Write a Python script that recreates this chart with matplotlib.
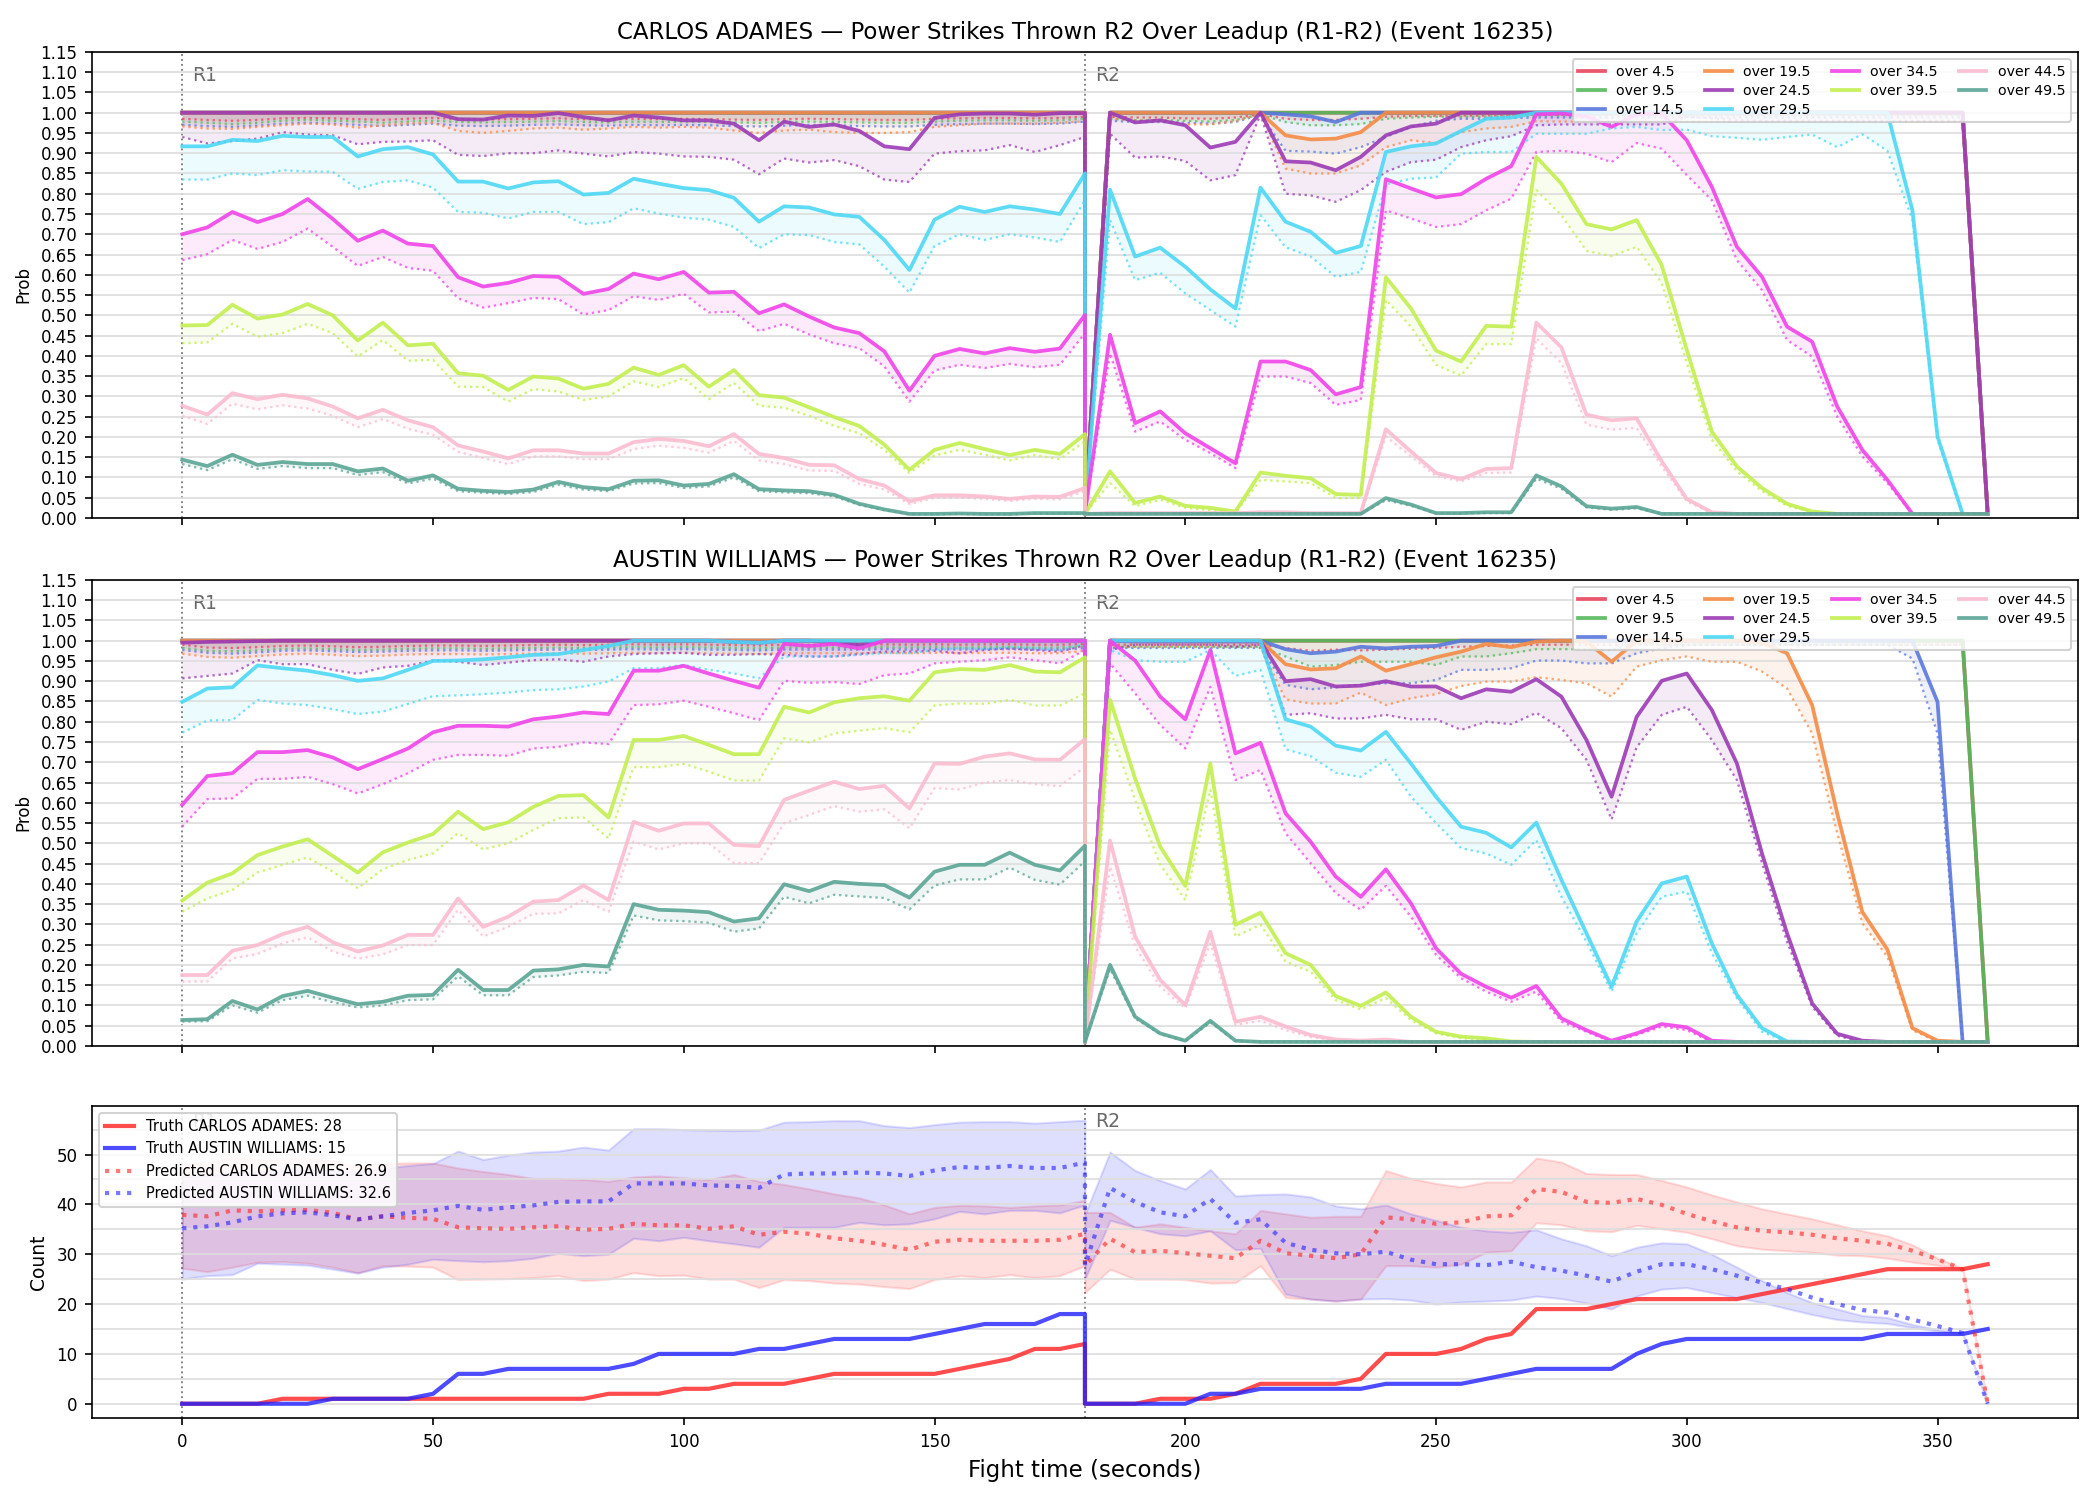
import matplotlib
matplotlib.use("Agg")
import matplotlib.pyplot as plt
from matplotlib.ticker import MultipleLocator

# time grid: R1 0..180, R2 restarts at 180..360 (5 s steps)
R1_T = list(range(0, 181, 5))
R2_T = list(range(180, 361, 5))
TIME = R1_T + R2_T

THRESHOLDS = [4.5, 9.5, 14.5, 19.5, 24.5, 29.5, 34.5, 39.5, 44.5, 49.5]
COLORS = ["#e8455d", "#55b85a", "#5a78dc", "#f58b45", "#9b3bb5",
          "#4dd8f5", "#f043e8", "#c2ef4f", "#fbbcd0", "#5aa595"]

# ---------------- CARLOS ADAMES: P(over x), solid = model, dotted = lower
ca_45 = [1.0] * 37 + [0.01] + [1.0] * 35 + [0.01]
ca_45_d = [0.985, 0.982, 0.98, 0.982, 0.986, 0.987, 0.986, 0.984, 0.982, 0.985, 0.987, 0.984, 0.983, 0.984, 0.985,
           0.986, 0.984, 0.983, 0.985, 0.984, 0.985, 0.984, 0.983, 0.982, 0.984, 0.985, 0.984, 0.983, 0.982, 0.982,
           0.985, 0.986, 0.987, 0.987, 0.986, 0.987, 0.99] + \
          [0.01, 0.99, 0.988, 0.988, 0.986, 0.985, 0.988, 0.996, 0.985, 0.982, 0.982, 0.985, 0.99, 0.992, 0.992,
           0.993, 0.993, 0.994, 0.995] + [0.995] * 17 + [0.01]
ca_95 = [1.0] * 37 + [0.01] + [1.0] * 35 + [0.01]
ca_95_d = [0.978, 0.975, 0.972, 0.975, 0.98, 0.982, 0.98, 0.978, 0.975, 0.978, 0.98, 0.977, 0.976, 0.977, 0.978,
           0.979, 0.977, 0.976, 0.978, 0.977, 0.978, 0.977, 0.976, 0.975, 0.977, 0.978, 0.977, 0.976, 0.975, 0.975,
           0.978, 0.98, 0.981, 0.981, 0.98, 0.981, 0.985] + \
          [0.01, 0.985, 0.982, 0.982, 0.98, 0.978, 0.982, 0.995, 0.977, 0.969, 0.969, 0.972, 0.985, 0.988, 0.99,
           0.99, 0.99, 0.992, 0.993] + [0.993] * 17 + [0.01]
ca_145 = [1.0] * 37 + [0.01, 1, 1, 1, 1, 1, 1, 1, 0.996, 0.991, 0.977, 1.0] + [1.0] * 24 + [0.01]
ca_145_d = [0.97, 0.967, 0.965, 0.968, 0.973, 0.975, 0.973, 0.97, 0.967, 0.97, 0.973, 0.968, 0.967, 0.968, 0.97,
            0.971, 0.969, 0.968, 0.97, 0.969, 0.97, 0.969, 0.967, 0.966, 0.968, 0.97, 0.969, 0.967, 0.966, 0.966,
            0.97, 0.972, 0.973, 0.973, 0.972, 0.973, 0.978] + \
           [0.01, 0.98, 0.977, 0.977, 0.975, 0.973, 0.977, 0.995, 0.906, 0.904, 0.899, 0.915, 0.94, 0.965, 0.98,
            0.985, 0.985, 0.987, 0.988] + [0.988] * 17 + [0.01]
ca_195 = [1.0] * 37 + [0.01, 1, 1, 1, 1, 1, 1, 1, 0.944, 0.934, 0.936, 0.952] + [1.0] * 24 + [0.01]
ca_195_d = [0.966, 0.961, 0.96, 0.965, 0.969, 0.973, 0.971, 0.963, 0.969, 0.973, 0.975, 0.955, 0.95, 0.955, 0.961,
            0.963, 0.958, 0.961, 0.965, 0.963, 0.965, 0.963, 0.956, 0.95, 0.956, 0.958, 0.952, 0.95, 0.95, 0.952,
            0.965, 0.969, 0.973, 0.973, 0.973, 0.975, 0.979] + \
           [0.01, 0.985, 0.981, 0.981, 0.971, 0.971, 0.979, 0.997, 0.862, 0.85, 0.85, 0.87, 0.915, 0.932, 0.925,
            0.952, 0.961, 0.965, 0.979] + [0.978] * 17 + [0.01]
ca_245 = [1.0] * 11 + [0.984, 0.983, 0.993, 0.992, 0.999, 0.989, 0.981, 0.993, 0.988, 0.981, 0.981, 0.973, 0.932,
                       0.978, 0.965, 0.971, 0.955, 0.917, 0.91, 0.987, 0.996, 0.998, 0.998, 0.995, 0.999, 0.999] + \
         [0.01, 1.0, 0.976, 0.981, 0.969, 0.914, 0.928, 1.0, 0.88, 0.877, 0.858, 0.891, 0.944, 0.966, 0.973,
          1.0] + [1.0] * 20 + [0.01]
ca_245_d = [0.94, 0.924, 0.93, 0.936, 0.952, 0.946, 0.944, 0.922, 0.928, 0.929, 0.932, 0.896, 0.893, 0.9, 0.9,
            0.907, 0.899, 0.892, 0.903, 0.899, 0.892, 0.891, 0.884, 0.848, 0.887, 0.877, 0.883, 0.868, 0.835,
            0.829, 0.899, 0.905, 0.907, 0.92, 0.903, 0.92, 0.94] + \
           [0.01, 0.948, 0.889, 0.892, 0.881, 0.833, 0.846, 0.996, 0.8, 0.796, 0.78, 0.809, 0.854, 0.878, 0.884,
            0.915, 0.932, 0.942, 0.969, 0.971, 0.971, 0.971, 0.971, 0.971, 0.99, 0.986, 0.982] + [0.98] * 9 + [0.01]
ca_295 = [0.917, 0.917, 0.933, 0.93, 0.943, 0.94, 0.94, 0.892, 0.91, 0.915, 0.897, 0.83, 0.83, 0.813, 0.828,
          0.831, 0.798, 0.802, 0.837, 0.825, 0.814, 0.809, 0.79, 0.731, 0.769, 0.766, 0.749, 0.743, 0.686, 0.612,
          0.736, 0.768, 0.755, 0.769, 0.761, 0.75, 0.85] + \
         [0.01, 0.81, 0.645, 0.667, 0.62, 0.564, 0.517, 0.815, 0.731, 0.706, 0.654, 0.671, 0.903, 0.917, 0.924,
          0.955, 0.985, 0.988] + [1.0] * 15 + [0.759, 0.201, 0.01, 0.01]
ca_295_d = [0.835, 0.835, 0.85, 0.846, 0.858, 0.855, 0.854, 0.812, 0.829, 0.833, 0.815, 0.755, 0.753, 0.739,
            0.755, 0.755, 0.725, 0.73, 0.764, 0.751, 0.741, 0.736, 0.718, 0.666, 0.7, 0.698, 0.681, 0.675, 0.62,
            0.556, 0.671, 0.7, 0.686, 0.7, 0.692, 0.681, 0.784] + \
           [0.01, 0.735, 0.587, 0.605, 0.554, 0.513, 0.472, 0.747, 0.668, 0.645, 0.595, 0.607, 0.823, 0.837, 0.84,
            0.899, 0.903, 0.903, 0.948, 0.948, 0.948, 0.961, 0.965, 0.957, 0.958, 0.942, 0.938, 0.933, 0.94, 0.946,
            0.915, 0.947, 0.906, 0.735, 0.193, 0.01, 0.01]
ca_345 = [0.7, 0.717, 0.755, 0.73, 0.75, 0.787, 0.738, 0.684, 0.709, 0.677, 0.671, 0.594, 0.571, 0.58, 0.597,
          0.595, 0.553, 0.565, 0.603, 0.589, 0.607, 0.556, 0.558, 0.505, 0.527, 0.497, 0.47, 0.456, 0.411, 0.314,
          0.4, 0.417, 0.406, 0.419, 0.41, 0.418, 0.501] + \
         [0.01, 0.452, 0.234, 0.263, 0.209, 0.172, 0.135, 0.386, 0.386, 0.365, 0.305, 0.323, 0.836, 0.813, 0.791,
          0.799, 0.837, 0.868, 0.996, 0.998, 0.991, 0.965, 0.996, 0.998, 0.932, 0.817, 0.669, 0.595, 0.472, 0.435,
          0.275, 0.168, 0.094, 0.01, 0.01, 0.01, 0.01]
ca_345_d = [0.636, 0.651, 0.686, 0.664, 0.681, 0.714, 0.669, 0.622, 0.644, 0.617, 0.61, 0.542, 0.519, 0.53, 0.543,
            0.54, 0.502, 0.513, 0.547, 0.538, 0.553, 0.507, 0.509, 0.461, 0.479, 0.453, 0.431, 0.419, 0.374, 0.287,
            0.364, 0.378, 0.37, 0.38, 0.372, 0.378, 0.456] + \
           [0.01, 0.406, 0.213, 0.238, 0.193, 0.16, 0.123, 0.349, 0.349, 0.333, 0.279, 0.291, 0.759, 0.739, 0.718,
            0.725, 0.759, 0.788, 0.903, 0.906, 0.899, 0.878, 0.925, 0.911, 0.846, 0.784, 0.636, 0.562, 0.439, 0.398,
            0.25, 0.152, 0.086, 0.01, 0.01, 0.01, 0.01]
ca_395 = [0.475, 0.476, 0.526, 0.492, 0.502, 0.528, 0.5, 0.438, 0.482, 0.426, 0.43, 0.357, 0.351, 0.316, 0.349,
          0.344, 0.319, 0.331, 0.371, 0.353, 0.377, 0.324, 0.365, 0.303, 0.297, 0.273, 0.249, 0.227, 0.181, 0.119,
          0.168, 0.185, 0.17, 0.155, 0.168, 0.158, 0.207] + \
         [0.01, 0.115, 0.037, 0.053, 0.03, 0.025, 0.016, 0.112, 0.104, 0.098, 0.059, 0.057, 0.594, 0.517, 0.413,
          0.386, 0.474, 0.472, 0.891, 0.825, 0.725, 0.712, 0.735, 0.624, 0.415, 0.213, 0.127, 0.074, 0.035,
          0.016] + [0.01] * 7
ca_395_d = [0.431, 0.433, 0.479, 0.447, 0.456, 0.479, 0.456, 0.398, 0.439, 0.388, 0.39, 0.324, 0.323, 0.287, 0.318,
            0.312, 0.291, 0.3, 0.337, 0.323, 0.345, 0.293, 0.333, 0.277, 0.272, 0.252, 0.227, 0.209, 0.168, 0.111,
            0.154, 0.168, 0.156, 0.142, 0.155, 0.145, 0.189] + \
           [0.01, 0.086, 0.029, 0.045, 0.025, 0.019, 0.012, 0.094, 0.09, 0.086, 0.049, 0.049, 0.538, 0.472, 0.378,
            0.351, 0.429, 0.429, 0.809, 0.747, 0.659, 0.646, 0.669, 0.579, 0.382, 0.193, 0.115, 0.066, 0.03,
            0.014] + [0.01] * 7
ca_445 = [0.277, 0.255, 0.308, 0.293, 0.304, 0.295, 0.275, 0.246, 0.267, 0.241, 0.224, 0.179, 0.164, 0.147, 0.167,
          0.167, 0.159, 0.159, 0.187, 0.195, 0.19, 0.177, 0.207, 0.158, 0.148, 0.131, 0.13, 0.096, 0.08, 0.041,
          0.056, 0.056, 0.053, 0.047, 0.053, 0.052, 0.074] + \
         [0.01, 0.012, 0.012, 0.012, 0.012, 0.012, 0.012, 0.014, 0.014, 0.012, 0.012, 0.012, 0.219, 0.164, 0.111,
          0.096, 0.121, 0.123, 0.482, 0.421, 0.255, 0.241, 0.246, 0.14, 0.047, 0.014] + [0.01] * 11
ca_445_d = [0.252, 0.232, 0.282, 0.268, 0.278, 0.27, 0.252, 0.224, 0.244, 0.22, 0.205, 0.163, 0.148, 0.133, 0.152,
            0.152, 0.145, 0.145, 0.17, 0.178, 0.173, 0.161, 0.19, 0.142, 0.133, 0.117, 0.116, 0.084, 0.07, 0.034,
            0.05, 0.05, 0.047, 0.042, 0.047, 0.046, 0.066] + \
           [0.01, 0.01, 0.01, 0.01, 0.01, 0.01, 0.01, 0.012, 0.012, 0.01, 0.01, 0.01, 0.201, 0.152, 0.103, 0.09,
            0.111, 0.112, 0.443, 0.382, 0.23, 0.218, 0.222, 0.127, 0.041, 0.012] + [0.01] * 11
ca_495 = [0.144, 0.128, 0.156, 0.131, 0.138, 0.133, 0.133, 0.115, 0.122, 0.092, 0.105, 0.072, 0.067, 0.064, 0.07,
          0.089, 0.076, 0.071, 0.092, 0.093, 0.08, 0.084, 0.108, 0.071, 0.068, 0.066, 0.057, 0.035, 0.021, 0.01,
          0.01, 0.011, 0.01, 0.01, 0.012, 0.012, 0.012] + \
         [0.01] * 12 + [0.049, 0.033, 0.012, 0.012, 0.014, 0.014, 0.105, 0.078, 0.029, 0.023, 0.027] + [0.01] * 14
ca_495_d = [0.133, 0.118, 0.145, 0.121, 0.128, 0.123, 0.123, 0.106, 0.113, 0.085, 0.097, 0.066, 0.062, 0.059,
            0.064, 0.082, 0.07, 0.066, 0.085, 0.086, 0.074, 0.078, 0.1, 0.066, 0.063, 0.061, 0.053, 0.032, 0.019,
            0.009, 0.009, 0.01, 0.009, 0.009, 0.011, 0.011, 0.011] + \
           [0.01] * 12 + [0.044, 0.03, 0.011, 0.011, 0.012, 0.012, 0.097, 0.072, 0.026, 0.02, 0.024] + [0.01] * 14

# ---------------- AUSTIN WILLIAMS
aw_45 = [1.0] * 37 + [0.01] + [1.0] * 35 + [0.01]
aw_45_d = [0.99, 0.983, 0.982, 0.984, 0.987, 0.988, 0.986, 0.984, 0.985, 0.987, 0.988, 0.988, 0.987, 0.988, 0.989,
           0.99, 0.989, 0.99, 0.991, 0.99, 0.991, 0.99, 0.989, 0.988, 0.99, 0.99, 0.99, 0.99, 0.991, 0.99, 0.991,
           0.99, 0.991, 0.991, 0.99, 0.99, 0.992] + \
          [0.01, 0.99, 0.99, 0.99, 0.99, 0.99, 0.99, 0.99, 0.982, 0.975, 0.978, 0.976, 0.978, 0.98, 0.982, 0.985,
           0.987, 0.988, 0.99] + [0.99] * 17 + [0.01]
aw_95 = [1.0] * 37 + [0.01] + [1.0] * 35 + [0.01]
aw_95_d = [0.982, 0.975, 0.974, 0.976, 0.98, 0.981, 0.979, 0.977, 0.978, 0.98, 0.981, 0.981, 0.98, 0.981, 0.982,
           0.983, 0.982, 0.983, 0.984, 0.983, 0.984, 0.983, 0.982, 0.981, 0.983, 0.983, 0.983, 0.983, 0.984, 0.983,
           0.984, 0.983, 0.984, 0.984, 0.983, 0.983, 0.986] + \
          [0.01, 0.985, 0.985, 0.985, 0.985, 0.985, 0.985, 0.985, 0.961, 0.936, 0.94, 0.948, 0.948, 0.948, 0.94,
           0.961, 0.961, 0.969, 0.979, 0.979, 0.979, 0.977, 0.993] + [0.99] * 13 + [0.01]
aw_145 = [1.0] * 37 + [0.01, 1, 1, 1, 1, 1, 1, 1, 0.979, 0.969, 0.973, 0.985, 0.981, 0.985, 0.987] + [1.0] * 19 + \
         [0.849, 0.01, 0.01]
aw_145_d = [0.977, 0.97, 0.968, 0.971, 0.975, 0.976, 0.974, 0.972, 0.973, 0.975, 0.976, 0.976, 0.975, 0.976,
            0.977, 0.978, 0.977, 0.978, 0.979, 0.978, 0.979, 0.978, 0.977, 0.976, 0.978, 0.978, 0.978, 0.978,
            0.979, 0.978, 0.979, 0.978, 0.979, 0.979, 0.978, 0.978, 0.981] + \
           [0.01] + [0.982] * 7 + [0.891, 0.88, 0.885, 0.891, 0.895, 0.895, 0.903, 0.928, 0.928, 0.932, 0.951,
                                   0.951, 0.944, 0.944, 0.969, 0.981, 0.989] + [0.99] * 8 + [0.956, 0.771, 0.01, 0.01]
aw_195 = [1.0] * 37 + \
         [0.01, 1, 1, 1, 1, 1, 1, 1, 0.942, 0.929, 0.932, 0.961, 0.926, 0.942, 0.959, 0.973, 0.992, 0.984, 0.998,
          1.0, 0.998, 0.948, 1.0, 1.0, 1.0, 1.0, 1.0, 0.995, 0.969, 0.841, 0.574, 0.331, 0.238, 0.044, 0.013, 0.01,
          0.01]
aw_195_d = [0.968, 0.96, 0.958, 0.962, 0.966, 0.968, 0.965, 0.962, 0.963, 0.966, 0.967, 0.967, 0.966, 0.967,
            0.968, 0.969, 0.968, 0.969, 0.97, 0.969, 0.97, 0.969, 0.968, 0.967, 0.969, 0.969, 0.969, 0.969, 0.97,
            0.969, 0.97, 0.969, 0.97, 0.97, 0.969, 0.969, 0.975] + \
           [0.01] + [0.985] * 7 + [0.855, 0.845, 0.845, 0.872, 0.841, 0.858, 0.868, 0.888, 0.899, 0.899, 0.91,
                                   0.903, 0.895, 0.862, 0.936, 0.952, 0.961, 0.948, 0.948, 0.924, 0.882, 0.771,
                                   0.525, 0.303, 0.22, 0.039, 0.011, 0.01, 0.01]
aw_245 = [0.995, 0.997, 0.998, 0.999, 1, 1, 1, 1, 1, 1, 1, 1, 1, 1, 1, 1, 1, 1, 1, 1, 1, 1, 0.997, 0.995, 1, 1,
          0.995, 0.99, 1, 1, 1, 1, 1, 1, 1, 1, 1] + \
         [0.01, 1] + [0.998] * 6 + [0.9, 0.905, 0.887, 0.889, 0.9, 0.887, 0.887, 0.858, 0.88, 0.874, 0.905, 0.862,
                                   0.755, 0.615, 0.812, 0.901, 0.919, 0.829, 0.697, 0.475, 0.278, 0.105, 0.03,
                                   0.013] + [0.01] * 5
aw_245_d = [0.907, 0.913, 0.919, 0.952, 0.942, 0.942, 0.928, 0.918, 0.934, 0.938, 0.951, 0.948, 0.94, 0.946,
            0.952, 0.954, 0.948, 0.961, 0.967, 0.969, 0.97, 0.965, 0.965, 0.967, 0.965, 0.961, 0.961, 0.967, 0.973,
            0.973, 0.975, 0.969, 0.977, 0.981, 0.977, 0.973, 0.989] + \
           [0.01, 0.977, 0.99, 0.99, 0.99, 0.99, 0.985, 0.99, 0.817, 0.821, 0.808, 0.808, 0.817, 0.806, 0.806, 0.78,
            0.8, 0.794, 0.822, 0.784, 0.706, 0.559, 0.737, 0.817, 0.837, 0.755, 0.656, 0.451, 0.257, 0.097, 0.025,
            0.01, 0.01, 0.01, 0.01, 0.01, 0.01]
aw_295 = [0.849, 0.882, 0.885, 0.939, 0.932, 0.926, 0.915, 0.901, 0.907, 0.928, 0.95, 0.951, 0.954, 0.959, 0.965,
          0.967, 0.977, 0.987, 1, 1, 1, 1, 0.997, 0.995, 1, 1, 1, 1, 1, 1, 1, 1, 1, 1, 1, 1, 1] + \
         [0.01, 1, 1, 1, 1, 1, 1, 1, 0.806, 0.788, 0.741, 0.729, 0.775, 0.697, 0.615, 0.541, 0.526, 0.49, 0.551,
          0.41, 0.278, 0.146, 0.307, 0.401, 0.418, 0.253, 0.126, 0.044, 0.011] + [0.01] * 8
aw_295_d = [0.773, 0.803, 0.804, 0.854, 0.845, 0.841, 0.831, 0.819, 0.825, 0.844, 0.863, 0.865, 0.868, 0.872,
            0.878, 0.88, 0.887, 0.899, 0.932, 0.932, 0.94, 0.928, 0.919, 0.907, 0.961, 0.961, 0.961, 0.965, 0.969,
            0.969, 0.977, 0.981, 0.979, 0.984, 0.981, 0.977, 0.993] + \
           [0.01, 0.977, 0.952, 0.948, 0.948, 0.977, 0.913, 0.928, 0.732, 0.715, 0.674, 0.664, 0.706, 0.615, 0.55,
            0.488, 0.475, 0.447, 0.508, 0.368, 0.257, 0.134, 0.278, 0.368, 0.381, 0.229, 0.118, 0.035,
            0.01] + [0.01] * 8
aw_345 = [0.595, 0.666, 0.673, 0.725, 0.725, 0.73, 0.712, 0.683, 0.708, 0.734, 0.774, 0.79, 0.79, 0.788, 0.806,
          0.813, 0.823, 0.819, 0.926, 0.926, 0.938, 0.919, 0.901, 0.884, 0.992, 0.987, 0.992, 0.981, 1, 1, 1, 1, 1,
          1, 1, 1, 1] + \
         [0.01, 1, 0.951, 0.862, 0.806, 0.977, 0.722, 0.748, 0.574, 0.504, 0.418, 0.368, 0.436, 0.352, 0.241,
          0.178, 0.146, 0.119, 0.148, 0.068, 0.039, 0.013, 0.031, 0.054, 0.046, 0.013] + [0.01] * 11
aw_345_d = [0.541, 0.609, 0.611, 0.659, 0.659, 0.664, 0.646, 0.623, 0.646, 0.673, 0.706, 0.718, 0.718, 0.716,
            0.734, 0.738, 0.749, 0.745, 0.841, 0.843, 0.852, 0.837, 0.821, 0.804, 0.901, 0.896, 0.898, 0.893,
            0.915, 0.919, 0.944, 0.948, 0.952, 0.959, 0.952, 0.944, 0.977] + \
           [0.01, 0.944, 0.87, 0.792, 0.734, 0.886, 0.656, 0.681, 0.525, 0.451, 0.377, 0.336, 0.395, 0.319, 0.225,
            0.167, 0.134, 0.109, 0.134, 0.06, 0.035, 0.01, 0.027, 0.048, 0.039, 0.01] + [0.01] * 11
aw_395 = [0.359, 0.403, 0.426, 0.471, 0.492, 0.51, 0.469, 0.428, 0.478, 0.502, 0.523, 0.578, 0.535, 0.552, 0.59,
          0.617, 0.619, 0.564, 0.755, 0.755, 0.765, 0.743, 0.72, 0.72, 0.837, 0.823, 0.848, 0.858, 0.863, 0.852,
          0.922, 0.93, 0.928, 0.94, 0.924, 0.922, 0.959] + \
         [0.01, 0.855, 0.66, 0.492, 0.395, 0.697, 0.299, 0.329, 0.229, 0.2, 0.123, 0.099, 0.132, 0.072, 0.035,
          0.023, 0.019, 0.011] + [0.01] * 19
aw_395_d = [0.331, 0.364, 0.385, 0.428, 0.447, 0.465, 0.43, 0.389, 0.436, 0.459, 0.475, 0.525, 0.485, 0.5, 0.533,
            0.562, 0.564, 0.512, 0.688, 0.688, 0.696, 0.677, 0.655, 0.655, 0.759, 0.749, 0.771, 0.778, 0.784,
            0.774, 0.84, 0.845, 0.844, 0.854, 0.84, 0.84, 0.87] + \
           [0.01, 0.78, 0.607, 0.447, 0.36, 0.632, 0.27, 0.299, 0.208, 0.183, 0.113, 0.09, 0.118, 0.064, 0.031,
            0.019, 0.015, 0.01] + [0.01] * 19
aw_445 = [0.175, 0.175, 0.235, 0.249, 0.276, 0.294, 0.256, 0.233, 0.248, 0.274, 0.274, 0.364, 0.294, 0.319, 0.356,
          0.36, 0.396, 0.36, 0.553, 0.531, 0.549, 0.549, 0.496, 0.493, 0.607, 0.63, 0.652, 0.634, 0.642, 0.586,
          0.697, 0.696, 0.714, 0.722, 0.707, 0.706, 0.757] + \
         [0.01, 0.507, 0.27, 0.163, 0.101, 0.282, 0.06, 0.072, 0.048, 0.027, 0.016, 0.013, 0.016] + [0.01] * 24
aw_445_d = [0.159, 0.159, 0.216, 0.227, 0.253, 0.268, 0.233, 0.215, 0.226, 0.249, 0.249, 0.336, 0.27, 0.294,
            0.326, 0.327, 0.36, 0.331, 0.504, 0.485, 0.5, 0.5, 0.451, 0.451, 0.549, 0.57, 0.592, 0.578, 0.584,
            0.537, 0.636, 0.633, 0.65, 0.656, 0.646, 0.641, 0.689] + \
           [0.01, 0.442, 0.245, 0.146, 0.093, 0.253, 0.052, 0.062, 0.039, 0.022, 0.013, 0.011, 0.012] + [0.01] * 24
aw_495 = [0.064, 0.066, 0.111, 0.09, 0.123, 0.136, 0.119, 0.103, 0.109, 0.124, 0.126, 0.188, 0.138, 0.138, 0.186,
          0.189, 0.2, 0.196, 0.35, 0.336, 0.334, 0.33, 0.307, 0.315, 0.399, 0.382, 0.405, 0.4, 0.397, 0.366, 0.43,
          0.447, 0.447, 0.477, 0.447, 0.433, 0.494] + \
         [0.01, 0.2, 0.072, 0.031, 0.013, 0.062, 0.013] + [0.01] * 30
aw_495_d = [0.06, 0.061, 0.1, 0.082, 0.113, 0.124, 0.108, 0.095, 0.1, 0.113, 0.115, 0.172, 0.125, 0.125, 0.17,
            0.174, 0.183, 0.18, 0.322, 0.31, 0.308, 0.304, 0.282, 0.29, 0.368, 0.352, 0.373, 0.369, 0.365, 0.337,
            0.396, 0.411, 0.411, 0.44, 0.41, 0.398, 0.456] + \
           [0.01, 0.19, 0.068, 0.029, 0.012, 0.058, 0.012] + [0.01] * 30

# ---------------- counts
ca_truth = [0, 0, 0, 0, 1, 1, 1, 1, 1, 1, 1, 1, 1, 1, 1, 1, 1, 2, 2, 2, 3, 3, 4, 4, 4, 5, 6, 6, 6, 6, 6, 7, 8, 9,
            11, 11, 12] + \
           [0, 0, 0, 1, 1, 1, 2, 4, 4, 4, 4, 5, 10, 10, 10, 11, 13, 14, 19, 19, 19, 20, 21, 21, 21, 21, 21, 22, 23,
            24, 25, 26, 27, 27, 27, 27, 28]
aw_truth = [0, 0, 0, 0, 0, 0, 1, 1, 1, 1, 2, 6, 6, 7, 7, 7, 7, 7, 8, 10, 10, 10, 10, 11, 11, 12, 13, 13, 13, 13,
            14, 15, 16, 16, 16, 18, 18] + \
           [0, 0, 0, 0, 0, 2, 2, 3, 3, 3, 3, 3, 4, 4, 4, 4, 5, 6, 7, 7, 7, 7, 10, 12, 13, 13, 13, 13, 13, 13, 13,
            13, 14, 14, 14, 14, 15]
ca_pred = [37.9, 37.6, 38.8, 38.6, 38.8, 38.9, 38.3, 37.0, 37.6, 37.3, 37.1, 35.4, 35.2, 35.1, 35.4, 35.6, 34.9,
           35.1, 36.1, 35.8, 35.8, 35.1, 35.6, 33.9, 34.5, 34.1, 33.2, 32.7, 31.9, 30.9, 32.5, 32.9, 32.7, 32.7,
           32.7, 32.9, 34.1] + \
          [27.7, 33.1, 30.4, 30.7, 30.2, 29.7, 29.2, 32.7, 30.2, 29.7, 29.2, 30.0, 37.4, 37.0, 36.1, 36.4, 37.6,
           37.8, 43.1, 42.5, 40.5, 40.3, 41.1, 39.9, 38.1, 36.6, 35.4, 34.7, 34.4, 33.9, 33.2, 32.7, 32.1, 30.7,
           29.0, 27.0, 0.0]
ca_hi = [48.0, 48.3, 49.5, 49.0, 49.0, 49.3, 48.8, 47.5, 48.2, 48.3, 48.3, 47.3, 46.6, 46.0, 45.2, 45.2, 45.0,
         44.6, 45.5, 45.7, 45.3, 45.0, 46.0, 44.6, 44.0, 43.1, 42.1, 41.3, 39.9, 38.1, 39.4, 39.8, 39.7, 39.4, 39.7,
         39.9, 40.8] + \
        [38.4, 38.4, 35.4, 36.1, 35.4, 34.7, 34.1, 38.8, 38.1, 37.4, 37.6, 37.6, 46.8, 45.2, 44.2, 43.5, 44.5, 44.5,
         49.3, 48.5, 46.2, 46.0, 46.0, 44.8, 43.5, 41.9, 40.5, 39.1, 38.1, 37.1, 35.9, 34.7, 33.7, 31.9, 29.2, 27.2,
         0.0]
ca_lo = [27.2, 26.5, 27.4, 28.4, 28.5, 28.2, 27.4, 26.3, 27.7, 27.6, 27.4, 24.9, 25.0, 25.1, 25.3, 25.7, 24.7,
         25.0, 26.3, 25.7, 25.8, 25.0, 25.0, 23.3, 24.9, 24.7, 24.2, 24.0, 23.5, 23.1, 24.9, 25.7, 25.3, 25.9, 25.3,
         25.7, 27.7] + \
        [22.3, 27.0, 25.0, 25.0, 24.9, 24.2, 24.3, 27.7, 21.3, 21.0, 20.6, 21.0, 27.7, 27.7, 27.4, 28.0, 30.4, 30.7,
         36.3, 35.9, 34.7, 34.5, 35.8, 35.1, 34.4, 33.1, 31.7, 31.0, 30.7, 30.4, 29.8, 29.7, 29.2, 28.4, 27.8, 26.9,
         0.0]
aw_pred = [35.2, 35.6, 36.4, 37.6, 38.2, 38.4, 37.8, 37.0, 37.6, 38.3, 38.8, 39.7, 38.9, 39.4, 39.8, 40.5, 40.6,
           40.6, 44.2, 44.2, 44.2, 43.8, 43.7, 43.3, 46.0, 46.2, 46.2, 46.4, 46.2, 45.7, 46.8, 47.5, 47.3, 47.7,
           47.3, 47.3, 48.4] + \
          [27.7, 43.3, 40.5, 38.4, 37.6, 41.1, 36.3, 37.0, 32.3, 30.9, 30.2, 30.0, 30.5, 28.9, 28.0, 28.0, 27.8,
           28.5, 27.4, 26.7, 25.7, 24.5, 26.5, 28.0, 28.0, 27.0, 25.7, 24.3, 23.0, 21.3, 20.0, 18.8, 18.3, 16.9,
           15.6, 14.2, 0.0]
aw_hi = [45.5, 45.8, 46.3, 46.5, 46.8, 47.0, 46.8, 46.5, 47.2, 47.8, 48.2, 50.7, 49.0, 49.9, 50.5, 50.7, 51.5,
         50.9, 55.2, 55.2, 55.0, 54.9, 54.8, 54.9, 56.5, 56.6, 56.8, 56.8, 55.8, 55.4, 56.0, 56.5, 56.6, 56.6, 56.3,
         56.6, 56.9] + \
        [38.0, 50.5, 46.8, 44.8, 43.1, 47.0, 41.7, 42.0, 42.1, 41.5, 39.7, 39.1, 39.9, 38.1, 36.8, 35.4, 34.7, 34.4,
         34.9, 33.1, 31.7, 29.7, 31.4, 32.3, 32.1, 30.0, 27.4, 24.7, 22.3, 20.3, 19.0, 17.7, 17.3, 15.9, 14.9, 14.2,
         0.0]
aw_lo = [25.0, 25.7, 25.9, 28.2, 28.0, 27.8, 27.0, 26.2, 27.4, 28.0, 29.0, 28.7, 28.5, 28.7, 29.2, 30.2, 29.7,
         30.0, 33.2, 32.7, 33.4, 32.7, 32.1, 31.4, 35.4, 35.4, 35.4, 36.4, 35.9, 36.1, 37.1, 38.6, 38.1, 38.8, 38.8,
         38.3, 39.9] + \
        [25.0, 36.8, 35.4, 34.1, 33.7, 34.7, 30.9, 31.2, 22.0, 21.0, 20.6, 21.0, 21.1, 20.8, 20.0, 20.4, 20.6, 20.8,
         21.6, 21.1, 20.2, 19.0, 21.6, 23.0, 23.3, 22.3, 21.3, 20.3, 19.1, 17.9, 16.9, 16.4, 16.1, 15.3, 14.6, 14.1,
         0.0]

CA_SOLID = [ca_45, ca_95, ca_145, ca_195, ca_245, ca_295, ca_345, ca_395, ca_445, ca_495]
CA_DOT = [ca_45_d, ca_95_d, ca_145_d, ca_195_d, ca_245_d, ca_295_d, ca_345_d, ca_395_d, ca_445_d, ca_495_d]
AW_SOLID = [aw_45, aw_95, aw_145, aw_195, aw_245, aw_295, aw_345, aw_395, aw_445, aw_495]
AW_DOT = [aw_45_d, aw_95_d, aw_145_d, aw_195_d, aw_245_d, aw_295_d, aw_345_d, aw_395_d, aw_445_d, aw_495_d]


def mark_rounds(ax):
    for t0, lab in ((0, "R1"), (180, "R2")):
        ax.axvline(t0, color="gray", ls=":", lw=0.9, zorder=0)
        ax.text(t0 + 2, 0.95, lab, transform=ax.get_xaxis_transform(),
                color="dimgray", fontsize=9, va="center", zorder=1)


def plot_prob_panel(ax, title, solids, dots):
    for thr, color, s, d in zip(THRESHOLDS, COLORS, solids, dots):
        ax.plot(TIME, s, color=color, lw=1.8, alpha=0.9, label=f"over {thr}")
        ax.plot(TIME, d, color=color, lw=1.1, ls=":", alpha=0.75)
        ax.fill_between(TIME, d, s, color=color, alpha=0.1, lw=0)
    mark_rounds(ax)
    ax.set_ylim(0, 1.15)
    ax.yaxis.set_major_locator(MultipleLocator(0.05))
    ax.set_ylabel("Prob", fontsize=8)
    ax.set_title(title, fontsize=11)
    ax.grid(axis="y", color="#dddddd", lw=0.8)
    ax.tick_params(labelsize=8, labelbottom=False)
    ax.legend(loc="upper right", ncol=4, fontsize=6.8, framealpha=0.85,
              labelspacing=0.35, columnspacing=1.5, handlelength=1.9)


fig = plt.figure(figsize=(14, 10), dpi=150)
ax1 = fig.add_axes([0.0438, 0.6547, 0.9457, 0.3107])
ax2 = fig.add_axes([0.0438, 0.3027, 0.9457, 0.3107], sharex=ax1)
ax3 = fig.add_axes([0.0438, 0.0547, 0.9457, 0.2080], sharex=ax1)

plot_prob_panel(ax1, "CARLOS ADAMES — Power Strikes Thrown R2 Over Leadup (R1-R2) (Event 16235)",
                CA_SOLID, CA_DOT)
plot_prob_panel(ax2, "AUSTIN WILLIAMS — Power Strikes Thrown R2 Over Leadup (R1-R2) (Event 16235)",
                AW_SOLID, AW_DOT)

# counts panel
ax3.fill_between(TIME, ca_lo, ca_hi, color="red", alpha=0.13)
ax3.fill_between(TIME, aw_lo, aw_hi, color="blue", alpha=0.13)
ax3.plot(TIME, ca_truth, color="#ff2020", lw=2, alpha=0.8, label=f"Truth CARLOS ADAMES: {ca_truth[-1]}")
ax3.plot(TIME, aw_truth, color="#2020ff", lw=2, alpha=0.8, label=f"Truth AUSTIN WILLIAMS: {aw_truth[-1]}")
ax3.plot(TIME, ca_pred, color="#ff2020", lw=2, ls=":", alpha=0.6, label="Predicted CARLOS ADAMES: 26.9")
ax3.plot(TIME, aw_pred, color="#2020ff", lw=2, ls=":", alpha=0.6, label="Predicted AUSTIN WILLIAMS: 32.6")
mark_rounds(ax3)
ax3.yaxis.set_minor_locator(MultipleLocator(5))
ax3.grid(axis="y", which="both", color="#dddddd", lw=0.8)
ax3.tick_params(which="minor", length=0)
ax3.tick_params(labelsize=8)
ax3.set_ylabel("Count", fontsize=9)
ax3.set_xlabel("Fight time (seconds)", fontsize=11)
ax3.legend(loc="upper left", fontsize=7, framealpha=0.85)

fig.savefig("out.png", dpi=150)
